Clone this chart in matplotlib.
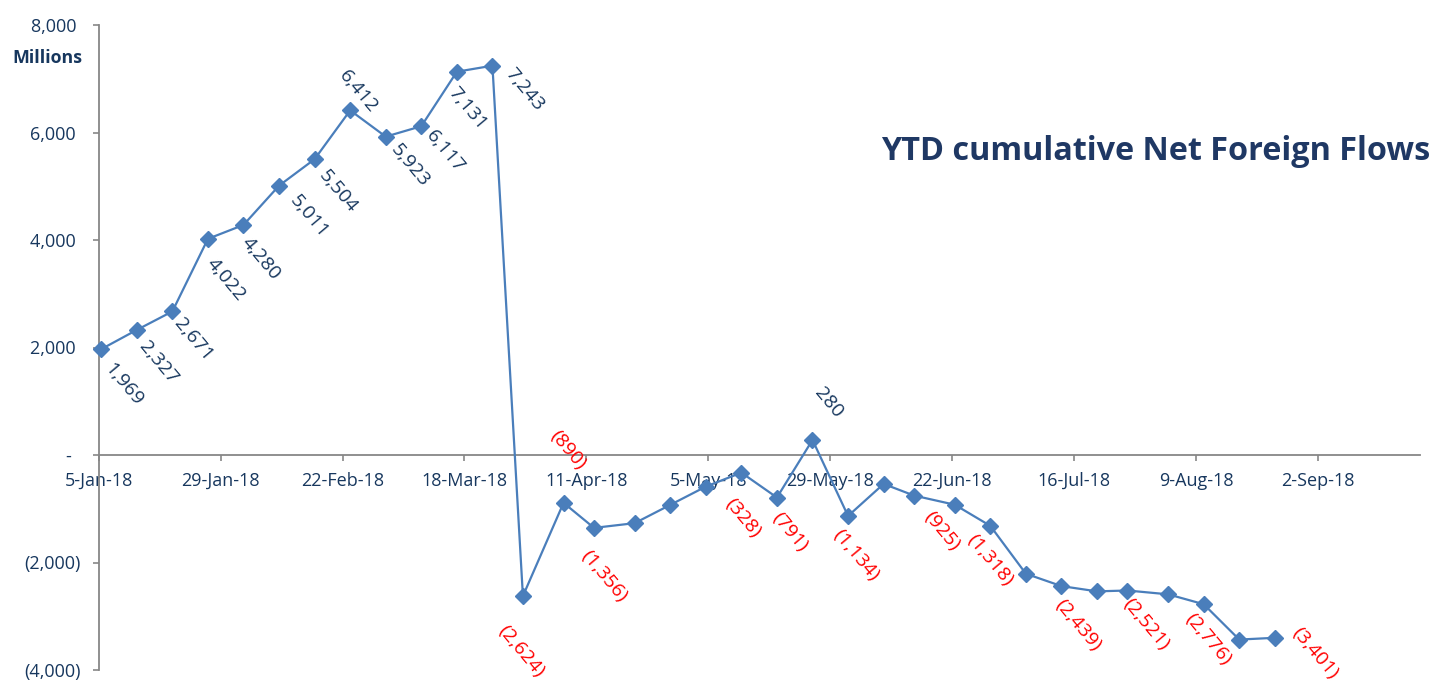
import matplotlib
matplotlib.use("Agg")
import matplotlib.pyplot as plt
import matplotlib.dates as mdates
import numpy as np
import pandas as pd

# ---------------- data ----------------
dates = ['2018-01-05', '2018-01-12', '2018-01-19', '2018-01-26', '2018-02-02',
         '2018-02-09', '2018-02-16', '2018-02-23', '2018-03-02', '2018-03-09',
         '2018-03-16', '2018-03-23', '2018-03-29', '2018-04-06', '2018-04-12',
         '2018-04-20', '2018-04-27', '2018-05-04', '2018-05-11', '2018-05-18',
         '2018-05-25', '2018-06-01', '2018-06-08', '2018-06-14', '2018-06-22',
         '2018-06-29', '2018-07-06', '2018-07-13', '2018-07-20', '2018-07-26',
         '2018-08-03', '2018-08-10', '2018-08-17', '2018-08-24']
values = [1969, 2327, 2671, 4022, 4280, 5011, 5504, 6412, 5923, 6117,
          7131, 7243, -2624, -890, -1356, -1268, -928, -588, -328, -791,
          280, -1134, -538, -755, -925, -1318, -2209, -2439, -2537, -2521,
          -2592, -2776, -3434, -3401]
labelled = [0, 1, 2, 3, 4, 5, 6, 7, 8, 9, 10, 11, 12, 13, 14,
            18, 19, 20, 21, 24, 25, 27, 29, 31, 33]
x_tick_labels = ['5-Jan-18', '29-Jan-18', '22-Feb-18', '18-Mar-18', '11-Apr-18',
                 '5-May-18', '29-May-18', '22-Jun-18', '16-Jul-18', '9-Aug-18',
                 '2-Sep-18']
y_ticks = [-4000, -2000, 0, 2000, 4000, 6000, 8000]
title = 'YTD cumulative Net Foreign Flows'
unit_label = 'Millions'

# label placement (offset of label centre from its point, pixels; +y = down)
label_offsets = {0: (22, 35), 1: (22, 33), 2: (21, 28), 3: (18, 41), 4: (17, 34),
                 5: (30, 31), 6: (23, 32), 7: (8, -19), 8: (24, 29), 9: (24, 25),
                 10: (11, 37), 11: (32, 24), 12: (-2, 55), 13: (4, -53),
                 14: (10, 48), 18: (1, 45), 19: (13, 35), 20: (16, -37),
                 21: (8, 39), 24: (-13, 26), 25: (0, 34), 27: (17, 39),
                 29: (19, 34), 31: (4, 35), 33: (40, 15)}

# ---------------- style ----------------
W, H = 1432, 682
NAVY = '#17375E'
RED = '#FF0000'
LINE = '#4A7EBB'
AXIS = '#878787'
FONT = 'Open Sans'
plt.rcParams['font.family'] = [FONT, 'DejaVu Sans']

fig = plt.figure(figsize=(W / 100, H / 100), dpi=100)
left_px, right_px, top_px, bot_px = 98.7, 1419.6, 25, 670
ax = fig.add_axes([left_px / W, 1 - bot_px / H,
                   (right_px - left_px) / W, (bot_px - top_px) / H])

x0 = mdates.date2num(pd.Timestamp(dates[0]))
xs = mdates.date2num(pd.to_datetime(dates)) + 0.5
ax.set_xlim(x0, x0 + 260)
ax.set_ylim(-4000, 8000)

ax.plot(xs, values, color=LINE, lw=1.6, marker='D', ms=8.3,
        mec=LINE, mfc=LINE, zorder=3, clip_on=False)

# axes / spines
for s in ['top', 'right']:
    ax.spines[s].set_visible(False)
for s in ['left', 'bottom']:
    ax.spines[s].set_color(AXIS)
    ax.spines[s].set_linewidth(1.3)
ax.spines['bottom'].set_position(('data', 0))

ax.set_xticks(x0 + np.arange(len(x_tick_labels)) * 24)
ax.set_xticklabels(x_tick_labels)
ax.set_yticks(y_ticks)


def yfmt(v):
    if v == 0:
        return '-  '
    if v < 0:
        return '({:,})'.format(-v)
    return '{:,} '.format(v)


ax.set_yticklabels([yfmt(v) for v in y_ticks])
ax.tick_params(axis='both', colors=AXIS, labelcolor=NAVY, labelsize=13,
               length=4.5, width=1.2, direction='out')
ax.tick_params(axis='y', pad=8.5)
ax.tick_params(axis='x', pad=7.5)


def dfmt(v):
    return '({:,})'.format(-v) if v < 0 else '{:,}'.format(v)


for i in labelled:
    dx, dy = label_offsets[i]
    v = values[i]
    ax.annotate(dfmt(v), xy=(xs[i], v), xytext=(dx, -dy),
                textcoords='offset pixels', rotation=-50,
                rotation_mode='anchor', ha='center', va='center',
                fontsize=14, color=RED if v < 0 else NAVY, zorder=4,
                annotation_clip=False)

renderer = fig.canvas.get_renderer()


def fit(t, width_px):
    bb = t.get_window_extent(renderer)
    t.set_fontsize(t.get_fontsize() * width_px / bb.width)


t = fig.text(1430 / W, 1 - 151 / H, title, ha='right', va='center',
             fontsize=22, fontweight='bold', color='#1F3864')
fit(t, 547)
u = fig.text(47 / W, 1 - 58 / H, unit_label, ha='center', va='center',
             fontsize=12, fontweight='bold', color=NAVY)
fit(u, 70)

fig.savefig('out.png', dpi=100)
